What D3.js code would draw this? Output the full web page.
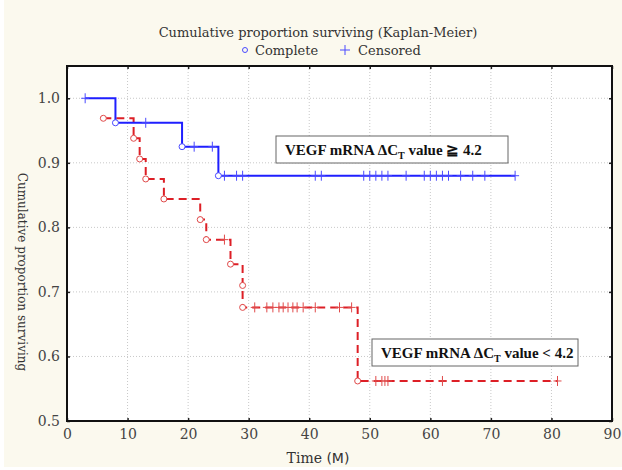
<!DOCTYPE html>
<html>
<head>
<meta charset="utf-8">
<script src="https://cdn.jsdelivr.net/npm/d3@7"></script>
<style>
  body { margin: 0; background: #fff; }
  text { font-family: "DejaVu Serif", "Liberation Serif", serif; }
</style>
</head>
<body>
<div id="chart"></div>
<script>
(function () {
    'use strict'

    // blue group: VEGF dCT >= 4.2
    var blueStart = 3
    var blueEnd = 74
    var blueTimes = [8, 19, 25]
    var blueSurv = [0.962, 0.925, 0.880]
    var blueCensor = [3, 13, 21, 24, 26, 28, 29, 41, 42, 49, 50, 51, 52, 53, 56, 59, 60, 61, 62, 63, 65, 67, 69, 74]

    // red group: VEGF dCT < 4.2
    var redEnd = 81
    var redTimes = [6, 11, 12, 13, 16, 22, 23, 27, 29, 29, 48]
    var redSurv = [0.969, 0.938, 0.906, 0.875, 0.844, 0.812, 0.781, 0.743, 0.710, 0.676, 0.562]
    var redCensor = [26, 31, 33, 34, 35, 35.7, 36.5, 37.3, 38, 39, 41, 45, 47, 51, 52, 52.5, 53, 62, 81]

    var xTicks = [0, 10, 20, 30, 40, 50, 60, 70, 80, 90]
    var yTicks = [0.5, 0.6, 0.7, 0.8, 0.9, 1.0]

    var W = 622, H = 470
    var margin = { top: 66, right: 10, bottom: 49, left: 67 }
    var width = W - margin.left - margin.right,
        height = H - margin.top - margin.bottom

    var svg = d3.select('#chart').append('svg')
        .attr('width', W)
        .attr('height', H)

    svg.append('rect')
        .attr('x', 4).attr('y', 0)
        .attr('width', W - 4).attr('height', H - 3)
        .attr('fill', '#fbf9ee')

    var x = d3.scaleLinear().domain([0, 90]).range([0, width])
    var y = d3.scaleLinear().domain([0.5, 1.05]).range([height, 0])

    var g = svg.append('g')
        .attr('transform', 'translate(' + margin.left + ',' + margin.top + ')')

    g.append('rect')
        .attr('width', width).attr('height', height)
        .attr('fill', '#fff')

    // grid
    g.selectAll('.gx').data(xTicks.slice(1, -1)).enter().append('line')
        .attr('x1', x).attr('x2', x)
        .attr('y1', 0).attr('y2', height)
        .attr('stroke', '#c8c8c8').attr('stroke-dasharray', '1,2')
    g.selectAll('.gy').data(yTicks.slice(1)).enter().append('line')
        .attr('y1', y).attr('y2', y)
        .attr('x1', 0).attr('x2', width)
        .attr('stroke', '#c8c8c8').attr('stroke-dasharray', '1,2')

    // axes
    g.append('g').attr('transform', 'translate(0,' + height + ')')
        .call(d3.axisBottom(x).tickValues(xTicks).tickSize(-3).tickPadding(8))
    g.append('g')
        .call(d3.axisLeft(y).tickValues(yTicks).tickSize(-3).tickPadding(7).tickFormat(d3.format('.1f')))
    g.append('g').attr('transform', 'translate(' + width + ',0)')
        .call(d3.axisRight(y).tickValues(yTicks).tickSize(-3).tickFormat(''))
    g.append('g')
        .call(d3.axisTop(x).tickValues(xTicks).tickSize(-3).tickFormat(''))
    g.selectAll('.domain').remove()
    g.selectAll('.tick line').attr('stroke', '#222').attr('stroke-width', 1.5)
    g.selectAll('.tick text')
        .attr('fill', '#444')
        .style('font-size', '14px')
        .style('font-family', '"DejaVu Serif", serif')

    g.append('rect')
        .attr('width', width).attr('height', height)
        .attr('fill', 'none').attr('stroke', '#111').attr('stroke-width', 2)

    function survAt(times, surv, t, start) {
        var s = start
        for (var i = 0; i < times.length; i++) if (times[i] <= t) s = surv[i]
        return s
    }

    var line = d3.line()
        .x(function (d) { return x(d[0]) })
        .y(function (d) { return y(d[1]) })
        .curve(d3.curveStepAfter)

    // blue curve
    var bluePts = [[blueStart, 1]]
    blueTimes.forEach(function (t, i) { bluePts.push([t, blueSurv[i]]) })
    bluePts.push([blueEnd, blueSurv[blueSurv.length - 1]])

    // red curve
    var redPts = []
    redTimes.forEach(function (t, i) { redPts.push([t, redSurv[i]]) })
    redPts.push([redEnd, redSurv[redSurv.length - 1]])

    function drawCensor(times, evT, evS, color) {
        g.append('g').selectAll('path').data(times).enter().append('path')
            .attr('d', function (t) {
                var cx = x(t), cy = y(survAt(evT, evS, t, 1))
                return 'M' + (cx - 4) + ',' + cy + 'H' + (cx + 4) + 'M' + cx + ',' + (cy - 5) + 'V' + (cy + 5)
            })
            .attr('stroke', color).attr('stroke-width', 1).attr('fill', 'none')
    }
    function drawEvents(times, surv, color) {
        g.append('g').selectAll('circle').data(times).enter().append('circle')
            .attr('cx', function (t) { return x(t) })
            .attr('cy', function (t, i) { return y(surv[i]) })
            .attr('r', 3)
            .attr('fill', '#fff').attr('stroke', color).attr('stroke-width', 1)
    }

    g.append('path').datum(redPts)
        .attr('d', line)
        .attr('fill', 'none').attr('stroke', '#dd1f26').attr('stroke-width', 2)
        .attr('stroke-dasharray', '8,5')
    drawCensor(redCensor, redTimes, redSurv, '#e04a4a')
    drawEvents(redTimes, redSurv, '#e04a4a')

    g.append('path').datum(bluePts)
        .attr('d', line)
        .attr('fill', 'none').attr('stroke', '#1f1fff').attr('stroke-width', 2)
    drawCensor(blueCensor, blueTimes, blueSurv, '#4a4aff')
    drawEvents(blueTimes, blueSurv, '#4a4aff')

    // annotation boxes
    function labelBox(bx, by, bw, bh, tail) {
        svg.append('rect')
            .attr('x', bx).attr('y', by).attr('width', bw).attr('height', bh)
            .attr('fill', '#fff').attr('stroke', '#666').attr('stroke-width', 1)
        var t = svg.append('text')
            .attr('x', bx + 9).attr('y', by + 19)
            .style('font-family', '"Liberation Serif", serif')
            .style('font-weight', 'bold').style('font-size', '15px')
            .attr('fill', '#111')
        t.append('tspan').text('VEGF mRNA \u0394C')
        t.append('tspan').attr('dy', 4).style('font-size', '10px').text('T')
        t.append('tspan').attr('dy', -4).text(tail)
    }
    labelBox(276, 136, 232, 27, ' value \u2267 4.2')
    labelBox(372, 339, 206, 27, ' value < 4.2')

    // title & legend
    svg.append('text')
        .attr('x', 318).attr('y', 37)
        .attr('text-anchor', 'middle')
        .style('font-size', '13px').attr('fill', '#333')
        .text('Cumulative proportion surviving (Kaplan-Meier)')
    svg.append('circle')
        .attr('cx', 245).attr('cy', 50).attr('r', 2.5)
        .attr('fill', 'none').attr('stroke', '#4a4aff')
    svg.append('text')
        .attr('x', 255).attr('y', 55)
        .style('font-size', '13px').attr('fill', '#333')
        .text('Complete')
    svg.append('path')
        .attr('d', 'M340,50H350M345,45V55')
        .attr('stroke', '#4a4aff').attr('stroke-width', 1)
    svg.append('text')
        .attr('x', 358).attr('y', 55)
        .style('font-size', '13px').attr('fill', '#333')
        .text('Censored')

    // axis titles
    svg.append('text')
        .attr('transform', 'translate(18,272) rotate(90)')
        .attr('text-anchor', 'middle')
        .style('font-size', '12px').attr('fill', '#333')
        .text('Cumulative proportion surviving')
    var xt = svg.append('text')
        .attr('x', 318).attr('y', 463)
        .attr('text-anchor', 'middle')
        .style('font-size', '14px').attr('fill', '#333')
    xt.append('tspan').text('Time ')
    xt.append('tspan').style('font-family', '"DejaVu Sans", sans-serif').text('(M)')
})()
</script>
</body>
</html>
